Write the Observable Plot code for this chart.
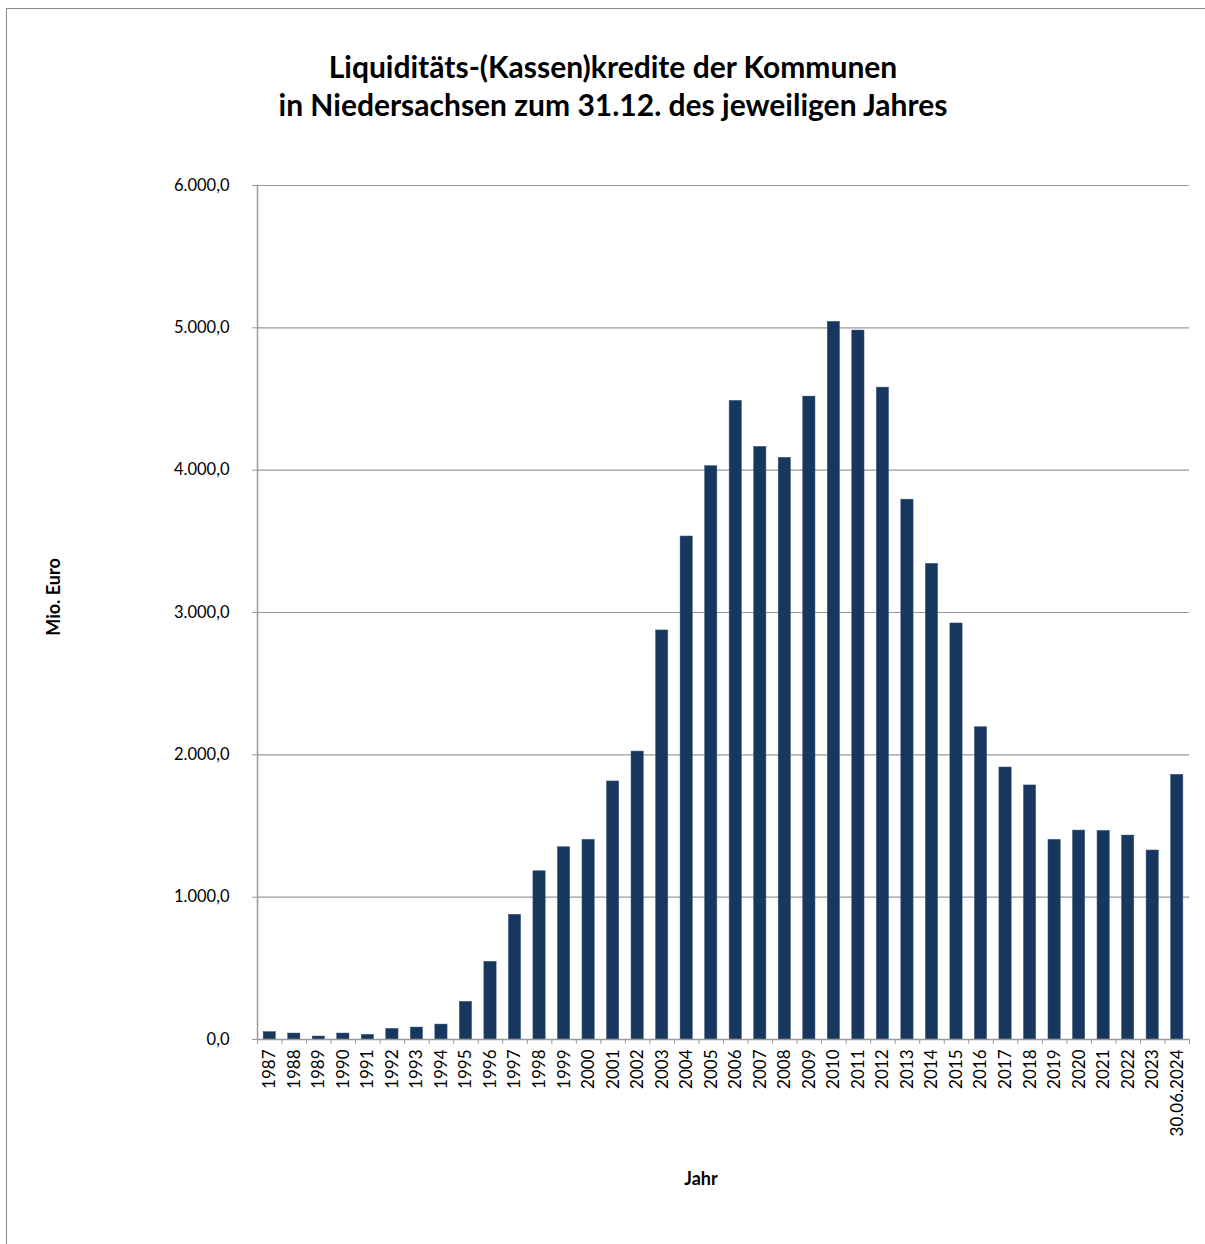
<!DOCTYPE html>
<html>
<head>
<meta charset="utf-8">
<script src="https://cdn.jsdelivr.net/npm/d3@7"></script>
<script src="https://cdn.jsdelivr.net/npm/@observablehq/plot@0.6"></script>
<style>
  html, body { margin: 0; padding: 0; background: #fff; }
  body { width: 1205px; height: 1244px; position: relative; overflow: hidden; font-family: Lato, "Open Sans", sans-serif; }
  #frame { position: absolute; left: 6px; top: 8px; width: 1215px; height: 1260px; border: 1px solid #8a8a8a; box-sizing: border-box; z-index: 5; pointer-events: none; }
  #title { position: absolute; left: 0; top: 47px; width: 1226px; text-align: center; font-weight: 700; font-size: 30px; line-height: 38px; color: #000; }
  #chart { position: absolute; left: 0; top: 150px; }
  #ylabel { position: absolute; left: 53px; top: 597px; transform: translate(-50%, -50%) rotate(-90deg); font-weight: 700; font-size: 18px; white-space: nowrap; }
  #xlabel { position: absolute; left: 701px; top: 1178px; transform: translate(-50%, -50%); font-weight: 700; font-size: 18px; }
</style>
</head>
<body>
<div id="frame"></div>
<div id="title">Liquiditäts-(Kassen)kredite der Kommunen<br>in Niedersachsen zum 31.12. des jeweiligen Jahres</div>
<div id="chart"></div>
<div id="ylabel">Mio. Euro</div>
<div id="xlabel">Jahr</div>
<script>
const categories = ["1987","1988","1989","1990","1991","1992","1993","1994","1995","1996","1997","1998","1999","2000","2001","2002","2003","2004","2005","2006","2007","2008","2009","2010","2011","2012","2013","2014","2015","2016","2017","2018","2019","2020","2021","2022","2023","30.06.2024"];
const values = [52,42,21,42,33,75,84,105,265,546,876,1182,1351,1403,1813,2023,2874,3534,4028,4487,4164,4087,4517,5042,4981,4580,3793,3342,2923,2194,1911,1785,1403,1468,1466,1433,1328,1860];
const yTicks = [0,1000,2000,3000,4000,5000,6000];

const data = categories.map((c, i) => ({year: c, value: values[i]}));
const de = d3.formatLocale({decimal: ",", thousands: ".", grouping: [3], currency: ["", " €"]});
const fmt = de.format(",.1f");

const W = 1205, H = 1085, mL = 257, mR = 16, mT = 35, mB = 196;
const step = (W - mL - mR) / categories.length;
const axisColor = "#9a9a9a";

const chart = Plot.plot({
  width: W, height: H,
  marginLeft: mL, marginRight: mR, marginTop: mT, marginBottom: mB,
  style: {fontFamily: "Lato, 'Open Sans', sans-serif", fontSize: "16px", color: "#000", background: "transparent"},
  x: {domain: categories, padding: 0.5, round: false, range: [mL - step / 4, W - mR + step / 4], label: null},
  y: {domain: [0, 6000], label: null},
  marks: [
    Plot.gridY(yTicks, {stroke: axisColor, strokeOpacity: 1, strokeWidth: 1.2}),
    Plot.barY(data, {x: "year", y: "value", fill: "#17375e", stroke: "#3d5a80", strokeWidth: 0.5}),
    Plot.frame({anchor: "left", stroke: axisColor, strokeWidth: 1.5}),
    Plot.ruleY([0], {stroke: axisColor, strokeWidth: 1.5}),
    Plot.axisY(yTicks, {tickFormat: fmt, tickSize: 5, tickPadding: 23, stroke: axisColor, fill: "#000", fontSize: 16.5, label: null}),
    Plot.axisX({tickRotate: -90, tickSize: 0, tickPadding: 10, fill: "#000", fontSize: 17, label: null}),
    Plot.axisX({text: null, tickSize: 5, dx: -step / 2, stroke: axisColor, label: null}),
    Plot.axisX([categories[categories.length - 1]], {text: null, tickSize: 5, dx: step / 2, stroke: axisColor, label: null})
  ]
});
document.getElementById("chart").appendChild(chart);
</script>
</body>
</html>
